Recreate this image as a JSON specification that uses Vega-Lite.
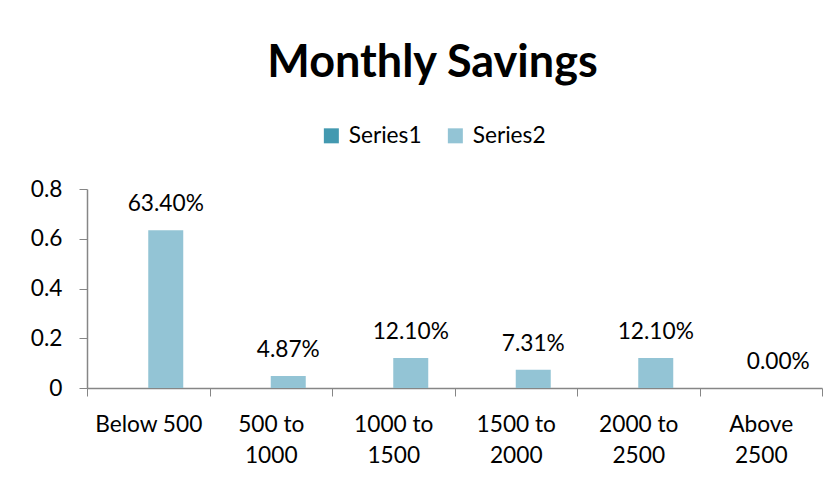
{
  "$schema": "https://vega.github.io/schema/vega-lite/v6.json",
  "autosize": "none",
  "width": 735,
  "height": 199,
  "padding": {"left": 87, "top": 189, "right": 15, "bottom": 91},
  "background": "white",
  "title": {
    "text": "Monthly Savings",
    "font": "Lato",
    "fontSize": 45,
    "fontWeight": "bold",
    "color": "black",
    "anchor": "middle",
    "frame": "group",
    "dx": -22,
    "offset": 38
  },
  "data": {
    "values": [
      {"cat": "Below 500", "series": "Series2", "value": 0.634},
      {"cat": "500 to 1000", "series": "Series2", "value": 0.0487},
      {"cat": "1000 to 1500", "series": "Series2", "value": 0.121},
      {"cat": "1500 to 2000", "series": "Series2", "value": 0.0731},
      {"cat": "2000 to 2500", "series": "Series2", "value": 0.121},
      {"cat": "Above 2500", "series": "Series2", "value": 0.0}
    ]
  },
  "encoding": {
    "x": {
      "field": "cat",
      "type": "nominal",
      "sort": null,
      "scale": {"paddingInner": 0, "paddingOuter": 0},
      "axis": {
        "title": null,
        "labelAngle": 0,
        "labelFont": "Lato",
        "labelFontSize": 22.7,
        "labelColor": "black",
        "labelPadding": 17,
        "labelLineHeight": 31,
        "tickBand": "extent",
        "tickSize": 8,
        "tickColor": "#868686",
        "domainColor": "#868686",
        "domainWidth": 1.5,
        "labelExpr": "!isString(datum.value) ? '' : datum.value == 'Below 500' ? datum.value : datum.value == 'Above 2500' ? ['Above', '2500'] : [split(datum.value, ' ')[0] + ' to', split(datum.value, ' ')[2]]"
      }
    },
    "xOffset": {
      "field": "series",
      "type": "nominal",
      "scale": {"domain": ["Series1", "Series2"], "paddingInner": 0, "paddingOuter": 0.75}
    },
    "y": {
      "field": "value",
      "type": "quantitative",
      "scale": {"domain": [0, 0.8], "nice": false},
      "axis": {
        "title": null,
        "values": [0, 0.2, 0.4, 0.6, 0.8],
        "format": "~g",
        "grid": false,
        "labelFont": "Lato",
        "labelFontSize": 22.7,
        "labelColor": "black",
        "labelPadding": 17,
        "tickSize": 8,
        "tickColor": "#868686",
        "domainColor": "#868686",
        "domainWidth": 1.5
      }
    }
  },
  "layer": [
    {
      "mark": {"type": "bar"},
      "encoding": {
        "color": {
          "field": "series",
          "type": "nominal",
          "scale": {"domain": ["Series1", "Series2"], "range": ["#4399B0", "#93C4D5"]},
          "legend": {
            "title": null,
            "orient": "none",
            "direction": "horizontal",
            "legendX": 233,
            "legendY": -65,
            "padding": 0,
            "symbolType": "square",
            "symbolSize": 225,
            "symbolStrokeWidth": 0,
            "symbolOpacity": 1,
            "labelFont": "Lato",
            "labelFontSize": 22.7,
            "labelColor": "black",
            "labelOffset": 6,
            "columnPadding": 22
          }
        }
      }
    },
    {
      "mark": {"type": "text", "font": "Lato", "fontSize": 22.7, "color": "black", "baseline": "alphabetic", "dy": -19},
      "encoding": {
        "text": {"field": "value", "type": "quantitative", "format": ".2%"}
      }
    }
  ],
  "config": {"view": {"stroke": null}}
}
